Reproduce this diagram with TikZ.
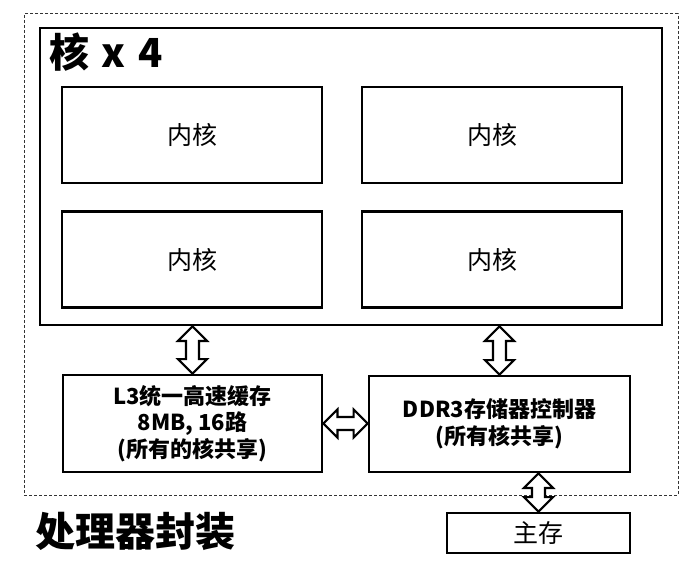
\documentclass[tikz,border=0pt]{standalone}
\usepackage{fontspec}
\setmainfont{Noto Sans CJK SC}
\usetikzlibrary{calc}

% hollow double-headed block arrow, vertical: #1 top end, #2 bottom end
\newcommand\vbusarrow[2]{%
  \draw[busarrow] let \p1=#1, \p2=#2 in
    (\x1,\y1) -- (\x1+14.5pt,\y1-14.5pt) -- (\x1+6.5pt,\y1-14.5pt) -- (\x1+6.5pt,\y2+14.5pt)
    -- (\x1+14.5pt,\y2+14.5pt) -- (\x1,\y2) -- (\x1-14.5pt,\y2+14.5pt) -- (\x1-6.5pt,\y2+14.5pt)
    -- (\x1-6.5pt,\y1-14.5pt) -- (\x1-14.5pt,\y1-14.5pt) -- cycle;}
% hollow double-headed block arrow, horizontal: #1 left end, #2 right end
\newcommand\hbusarrow[2]{%
  \draw[busarrow] let \p1=#1, \p2=#2 in
    (\x1,\y1) -- (\x1+14pt,\y1+14pt) -- (\x1+14pt,\y1+6.5pt) -- (\x2-14pt,\y1+6.5pt)
    -- (\x2-14pt,\y1+14pt) -- (\x2,\y1) -- (\x2-14pt,\y1-14pt) -- (\x2-14pt,\y1-6.5pt)
    -- (\x1+14pt,\y1-6.5pt) -- (\x1+14pt,\y1-14pt) -- cycle;}

\tikzset{
  box/.style={draw=black, line width=2.8pt, fill=white, inner sep=0pt},
  corebox/.style={box, minimum width=260pt, minimum height=96pt,
    font=\fontsize{25}{30}\selectfont},
  unitbox/.style={box, align=center, font=\fontsize{22}{26.5}\selectfont\bfseries},
  busarrow/.style={draw=black, line width=2.2pt, fill=white, line join=miter},
  title/.style={inner sep=0pt, font=\fontsize{40}{44}\selectfont\bfseries},
  package/.style={draw=black!80, line width=1pt, dash pattern=on 3pt off 2pt}
}

\begin{document}
\begin{tikzpicture}[x=1pt, y=-1pt]
  \useasboundingbox (0,0) rectangle (688,577);

  % processor package outline
  \node[package, minimum width=654pt, minimum height=481pt] (pkg) at (351,254.5) {};

  % four-core cluster
  \node[box, minimum width=622pt, minimum height=297pt] (cluster) at (351,176.5) {};
  \node[title, anchor=west] (clustertitle) at (49,52) {核\hspace{3pt} x\hspace{4pt} 4};
  \node[corebox] (c1) at (192,135) {内核};
  \node[corebox] (c2) at (492,135) {内核};
  \node[corebox] (c3) at (192,259.5) {内核};
  \node[corebox] (c4) at (492,259.5) {内核};

  % shared units
  \node[unitbox, minimum width=259pt, minimum height=97pt] (l3) at (192.5,423.5)
    {L3统一高速缓存\\8MB, 16路\\(所有的核共享)};
  \node[unitbox, minimum width=261pt, minimum height=96pt] (ddr) at (499.5,424)
    {DDR3存储器控制器\\(所有核共享)};

  % main memory
  \node[box, minimum width=183pt, minimum height=40pt,
        font=\fontsize{25}{30}\selectfont] (mem) at (538.5,533) {主存};

  \node[title] (pkgtitle) at (135,531) {处理器封装};

  % interconnect
  \vbusarrow{(l3.north |- cluster.south)}{(l3.north)}
  \vbusarrow{(ddr.north |- cluster.south)}{(ddr.north)}
  \hbusarrow{(l3.east)}{(ddr.west)}
  \vbusarrow{(mem.north |- ddr.south)}{(mem.north)}
\end{tikzpicture}
\end{document}
